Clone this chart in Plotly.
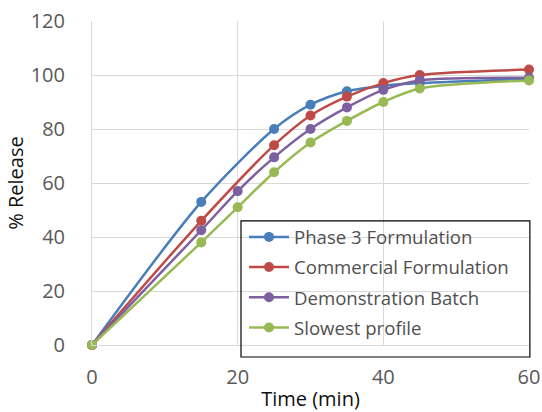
import plotly.graph_objects as go

time_phase3 = [0, 15, 25, 30, 35, 40, 45, 60]
phase3 = [0, 53, 80, 89, 94, 96, 97, 98.5]

time_commercial = [0, 15, 25, 30, 35, 40, 45, 60]
commercial = [0, 46, 74, 85, 92, 97, 100, 102]

time_demo = [0, 15, 20, 25, 30, 35, 40, 45, 60]
demo = [0, 42.5, 57, 69.5, 80, 88, 94.5, 98, 99]

time_slow = [0, 15, 20, 25, 30, 35, 40, 45, 60]
slow = [0, 38, 51, 64, 75, 83, 90, 95, 98]

x_ticks = [0, 20, 40, 60]
y_ticks = [0, 20, 40, 60, 80, 100, 120]

series = [
    ("Phase 3 Formulation", time_phase3, phase3, "#4A7EBB"),
    ("Commercial Formulation", time_commercial, commercial, "#BE4B48"),
    ("Demonstration Batch", time_demo, demo, "#7D60A0"),
    ("Slowest profile", time_slow, slow, "#98B954"),
]

FONT = "Open Sans, Noto Sans, sans-serif"

fig = go.Figure()
for name, xs, ys, color in series:
    fig.add_trace(go.Scatter(
        x=xs, y=ys, name=name, mode="lines+markers",
        line=dict(color=color, width=2.5, shape="spline", smoothing=0.8),
        marker=dict(color=color, size=10),
        legendgroup=name, cliponaxis=False,
    ))

# legend frame (legend background is transparent in the reference)
fig.add_shape(type="rect", xref="paper", yref="paper",
              x0=0.341, x1=1.002, y0=-0.037, y1=0.383,
              line=dict(color="#000000", width=1.2), fillcolor="rgba(0,0,0,0)",
              layer="above")

fig.update_layout(
    width=542, height=412,
    margin=dict(l=92, r=13, t=21, b=67),
    paper_bgcolor="white", plot_bgcolor="white",
    font=dict(family=FONT, color="#595959", size=20),
    showlegend=True,
    legend=dict(
        x=0.3478, y=0.391, xanchor="left", yanchor="top",
        bgcolor="rgba(0,0,0,0)", borderwidth=0,
        font=dict(family=FONT, size=18.6, color="#505050"),
        itemwidth=40, tracegroupgap=3,
    ),
    xaxis=dict(
        range=[0, 60], tickvals=x_ticks, showgrid=True,
        gridcolor="#D9D9D9", gridwidth=1, zeroline=False,
        showline=True, linecolor="#D9D9D9", ticks="",
        ticklabelstandoff=14, automargin=False,
        title=dict(text="Time (min)", font=dict(family=FONT, size=20, color="#111111"), standoff=5),
        tickfont=dict(family=FONT, size=20, color="#595959"),
    ),
    yaxis=dict(
        range=[0, 120], tickvals=y_ticks, showgrid=True,
        gridcolor="#D9D9D9", gridwidth=1, zeroline=False,
        showline=True, linecolor="#D9D9D9", ticks="",
        ticklabelstandoff=22, automargin=False,
        title=dict(text="% Release", font=dict(family=FONT, size=20, color="#111111"), standoff=1),
        tickfont=dict(family=FONT, size=20, color="#595959"),
    ),
)

fig.write_html("out.html")
